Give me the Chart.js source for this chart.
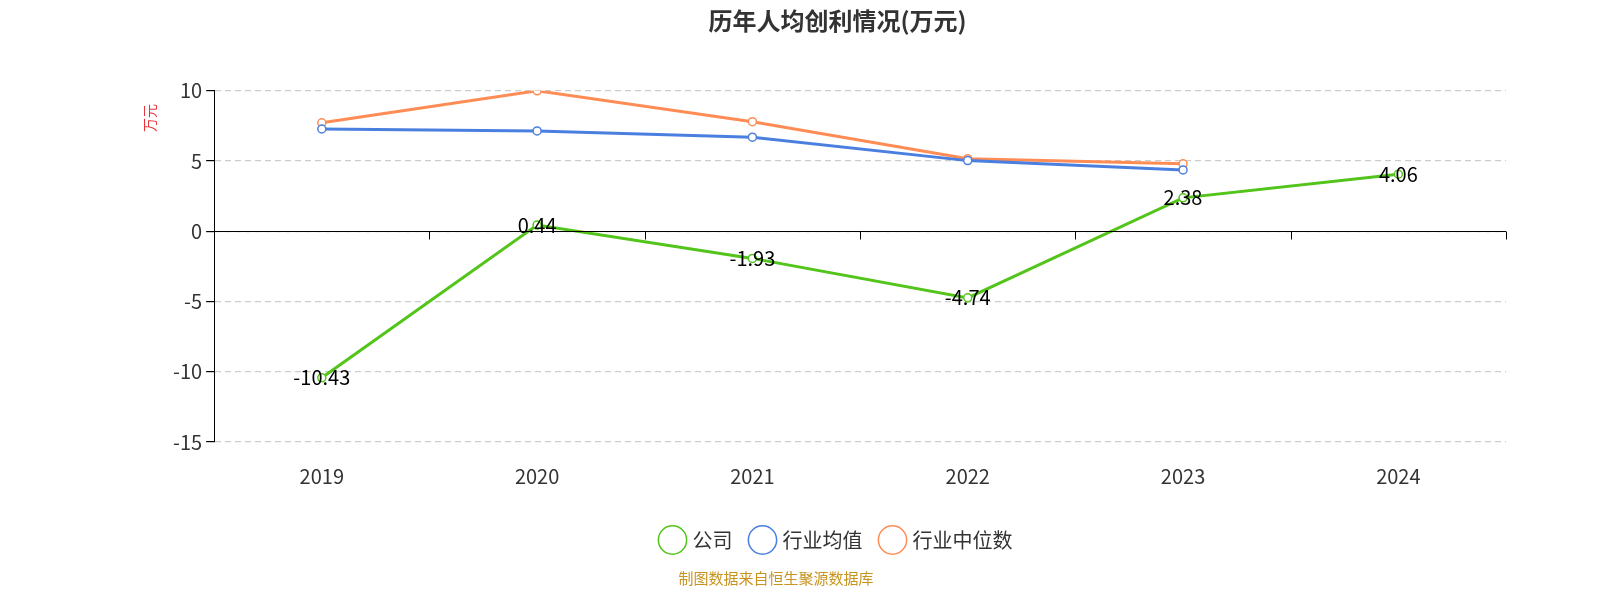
<!DOCTYPE html>
<html><head><meta charset="utf-8">
<script src="https://cdn.jsdelivr.net/npm/chart.js@4/dist/chart.umd.min.js"></script>
<style>html,body{margin:0;background:#fff;}#wrap{width:1600px;height:600px;position:relative;}</style>
</head><body><div id="wrap"><canvas id="c" width="1600" height="600"></canvas></div>
<script>
const years = ['2019', '2020', '2021', '2022', '2023', '2024'];
const company = [-10.43, 0.44, -1.93, -4.74, 2.38, 4.06];
const industryAvg = [7.28, 7.14, 6.7, 5.03, 4.37, null];
const industryMedian = [7.72, 10.0, 7.8, 5.17, 4.8, null];
const yTicks = [-15, -10, -5, 0, 5, 10];

const FONT = '"Noto Sans CJK SC", "Noto Sans", sans-serif';

// labels on the company line, zero line with tick marks, footer text
const extras = {
    id: 'extras',
    afterDatasetsDraw(chart) {
        const c = chart.ctx, x = chart.scales.x, y = chart.scales.y;
        const y0 = Math.round(y.getPixelForValue(0)) + 0.5;
        c.save();
        c.strokeStyle = '#000'; c.lineWidth = 1;
        c.beginPath(); c.moveTo(x.left, y0); c.lineTo(x.right, y0);
        for (let i = 0; i <= years.length; i++) {
            const px = Math.round(x.left + (x.right - x.left) * i / years.length) + 0.5;
            c.moveTo(px, y0); c.lineTo(px, y0 + 8);
        }
        c.stroke();
        c.font = '20px ' + FONT; c.fillStyle = '#000';
        c.textAlign = 'center'; c.textBaseline = 'middle';
        chart.getDatasetMeta(0).data.forEach((p, i) => {
            c.fillText(company[i].toFixed(2), p.x, p.y);
        });
        c.fillStyle = '#c89420'; c.font = '15px ' + FONT;
        c.fillText('制图数据来自恒生聚源数据库', 776, 578);
        c.fillStyle = '#e8343a'; c.font = '14px ' + FONT;
        c.translate(150, 118); c.rotate(-Math.PI / 2); c.fillText('万元', 0, 0);
        c.restore();
    }
};

function ds(label, data, color) {
    return { label, data, borderColor: color, backgroundColor: '#fff', borderWidth: 3,
        pointRadius: 4, pointBorderWidth: 1.5, pointBackgroundColor: '#fff', pointBorderColor: color,
        tension: 0, spanGaps: false };
}

new Chart(document.getElementById('c'), {
    type: 'line',
    data: { labels: years, datasets: [
        ds('公司', company, '#52c41a'),
        ds('行业均值', industryAvg, '#4a7fe0'),
        ds('行业中位数', industryMedian, '#ff8c55')
    ]},
    options: {
        responsive: false, animation: false,
        layout: { padding: { left: 169, right: 94, top: 0, bottom: 40 } },
        plugins: {
            title: { display: true, text: '历年人均创利情况(万元)', color: '#333',
                font: { size: 24, weight: 'bold', family: FONT }, padding: { top: 6, bottom: 56 } },
            legend: { position: 'bottom', labels: { usePointStyle: true, pointStyle: 'circle',
                boxWidth: 22, boxHeight: 22, padding: 20, color: '#333', font: { size: 20, family: FONT } } },
            tooltip: { enabled: false }
        },
        scales: {
            x: { offset: true, grid: { display: false, drawTicks: false }, border: { display: false },
                ticks: { color: '#333', font: { size: 20, family: FONT }, padding: 22 } },
            y: { min: -15, max: 10, afterBuildTicks: a => { a.ticks = yTicks.map(v => ({ value: v })); },
                border: { display: true, color: '#000', width: 1, dash: [6, 4] },
                grid: { color: '#ccc', drawTicks: true, tickLength: 8, tickColor: '#000', lineWidth: 1.2 },
                ticks: { color: '#333', font: { size: 20, family: FONT }, padding: 4 } }
        }
    },
    plugins: [extras]
});
</script></body></html>
